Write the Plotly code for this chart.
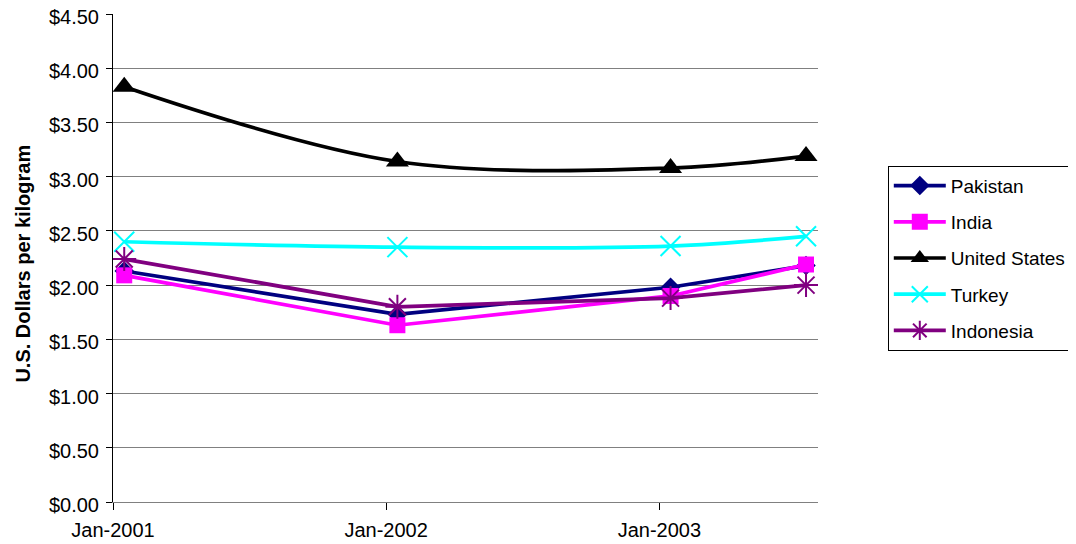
import pandas as pd
import plotly.graph_objects as go

# ---- data ----
months = ["2001-01", "2002-01", "2003-01", "2003-07"]
pakistan = [2.13, 1.73, 1.98, 2.18]
india = [2.09, 1.63, 1.90, 2.19]
united_states = [3.83, 3.14, 3.08, 3.19]
turkey = [2.40, 2.35, 2.36, 2.45]
indonesia = [2.24, 1.80, 1.88, 2.00]

# points sit in the middle of their month (date axis with monthly base unit)
x = pd.to_datetime(months) + pd.Timedelta(days=15)

FONT = "Liberation Sans, Arial, sans-serif"

series = [
    ("Pakistan", pakistan, "#000080", dict(symbol="diamond", size=15, color="#000080"), "linear"),
    ("India", india, "#FF00FF", dict(symbol="square", size=16, color="#FF00FF"), "linear"),
    ("United States", united_states, "#000000", dict(symbol="triangle-up", size=20, color="#000000"), "spline"),
    ("Turkey", turkey, "#00FFFF", dict(symbol="x-thin", size=20, color="#00FFFF",
                                       line=dict(color="#00FFFF", width=2)), "spline"),
    ("Indonesia", indonesia, "#800080", dict(symbol="asterisk", size=20, color="#800080",
                                             line=dict(color="#800080", width=2)), "linear"),
]

fig = go.Figure()
for name, vals, col, mk, shape in series:
    fig.add_trace(go.Scatter(
        x=x, y=vals, name=name, mode="lines+markers",
        line=dict(color=col, width=3.7, shape=shape),
        marker=mk, legendgroup=name,
    ))

fig.update_layout(
    width=1068, height=536,
    margin=dict(l=105, r=258, t=6, b=42, autoexpand=False),
    paper_bgcolor="white", plot_bgcolor="white",
    font=dict(family=FONT, size=20, color="black"),
    showlegend=True,
    legend=dict(
        x=1.099, y=0.689, xanchor="left", yanchor="top",
        bordercolor="black", borderwidth=1, bgcolor="white",
        font=dict(family=FONT, size=19, color="black"),
        itemwidth=52, tracegroupgap=8.5, itemsizing="trace",
    ),
    xaxis=dict(
        type="date", range=["2001-01-01", "2003-08-01"],
        tick0="2001-01-01", dtick="M12", tickformat="%b-%Y",
        showgrid=False, showline=True, linecolor="#808080", linewidth=1,
        ticks="outside", ticklen=7, tickcolor="black", tickwidth=1,
        ticklabelstandoff=3, ticklabeloverflow="allow",
        tickfont=dict(family=FONT, size=20, color="black"),
        zeroline=False, automargin=False,
    ),
    yaxis=dict(
        range=[0, 4.5], dtick=0.5, tick0=0,
        tickprefix="$", tickformat=".2f",
        showgrid=True, gridcolor="#808080", gridwidth=1,
        showline=True, linecolor="black", linewidth=1,
        ticks="outside", ticklen=6, tickcolor="black", tickwidth=1,
        ticklabelstandoff=3, ticklabelshift=3, ticklabeloverflow="allow",
        tickfont=dict(family=FONT, size=20, color="black"),
        zeroline=False, automargin=False,
    ),
    annotations=[dict(
        text="<b>U.S. Dollars per kilogram</b>", textangle=-90,
        xref="paper", yref="paper", x=-0.128, y=0.488,
        xanchor="center", yanchor="middle", showarrow=False,
        font=dict(family=FONT, size=20, color="black"),
    )],
)

fig.write_html("out.html")
